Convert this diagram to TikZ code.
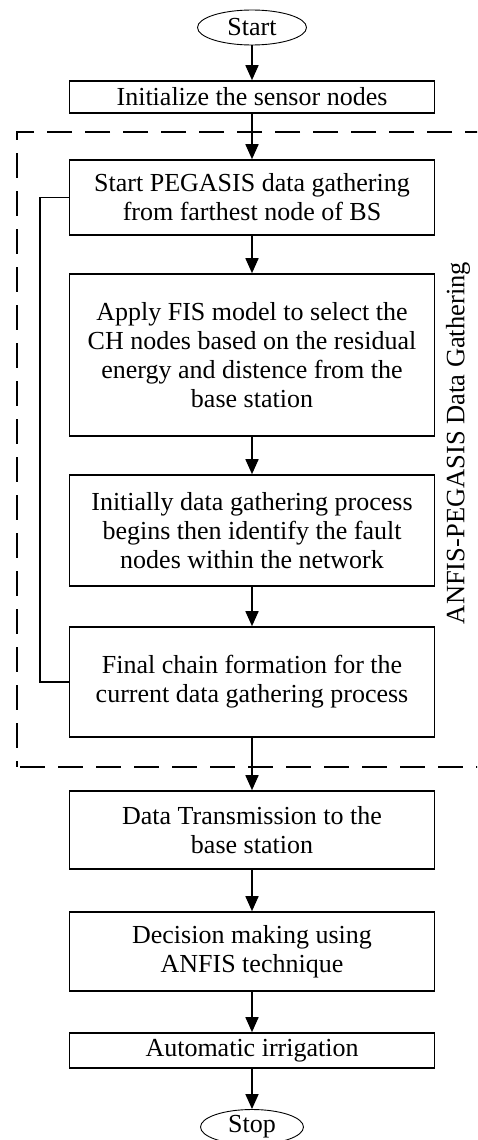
\documentclass[tikz,border=0pt]{standalone}
\usepackage{fontspec}
\setmainfont{Liberation Serif}
\usetikzlibrary{arrows.meta,shapes.geometric}
\begin{document}
\begin{tikzpicture}[x=1pt,y=-1pt,
  boxstyle/.style={draw,line width=1.6pt,minimum width=365pt,align=center,inner sep=0pt,
    font=\fontsize{26}{29}\selectfont},
  termstyle/.style={draw,ellipse,line width=0.9pt,inner sep=0pt,font=\fontsize{26}{29}\selectfont},
  arr/.style={line width=1.6pt,-{Triangle[length=15pt,width=13pt]}},
  fb/.style={line width=1.6pt}]
\useasboundingbox (0,0) rectangle (477,1140);
\begin{scope}
\clip (0,0) rectangle (477,1140);
\draw[line width=1.8pt,dash pattern=on 25pt off 13pt] (490,132) -- (17,132) -- (17,767);
\draw[line width=1.8pt,dash pattern=on 25pt off 13pt] (20,767) -- (490,767);
\end{scope}
\node[termstyle,minimum width=109pt,minimum height=35pt] (start) at (252,27.5) {Start};
\node[boxstyle,minimum height=32pt] (init) at (252,97) {Initialize the sensor nodes};
\node[boxstyle,minimum height=75pt] (b1) at (252,197.5) {Start PEGASIS data gathering\\from farthest node of BS};
\node[boxstyle,minimum height=162pt] (b2) at (252,355) {Apply FIS model to select the\\CH nodes based on the residual\\energy and distence from the\\base station};
\node[boxstyle,minimum height=111pt] (b3) at (252,530.5) {Initially data gathering process\\begins then identify the fault\\nodes within the network};
\node[boxstyle,minimum height=110pt] (b4) at (252,682) {Final chain formation for the\\current data gathering process};
\node[boxstyle,minimum height=78pt] (b5) at (252,830) {Data Transmission to the\\base station};
\node[boxstyle,minimum height=79pt] (b6) at (252,951.5) {Decision making using\\ANFIS technique};
\node[boxstyle,minimum height=35pt] (b7) at (252,1050.5) {Automatic irrigation};
\node[termstyle,minimum width=103pt,minimum height=35pt] (stop) at (252,1127) {Stop};
\node[rotate=90,font=\fontsize{26.5}{29}\selectfont] (lab) at (458,443) {ANFIS-PEGASIS Data Gathering};
\draw[arr] (start) -- (init);
\draw[arr] (init) -- (b1);
\draw[arr] (b1) -- (b2);
\draw[arr] (b2) -- (b3);
\draw[arr] (b3) -- (b4);
\draw[arr] (b4) -- (b5);
\draw[arr] (b5) -- (b6);
\draw[arr] (b6) -- (b7);
\draw[arr] (b7) -- (stop);
\draw[fb] (b4.west) -- ++(-29,0) |- (b1.west);
\end{tikzpicture}
\end{document}
